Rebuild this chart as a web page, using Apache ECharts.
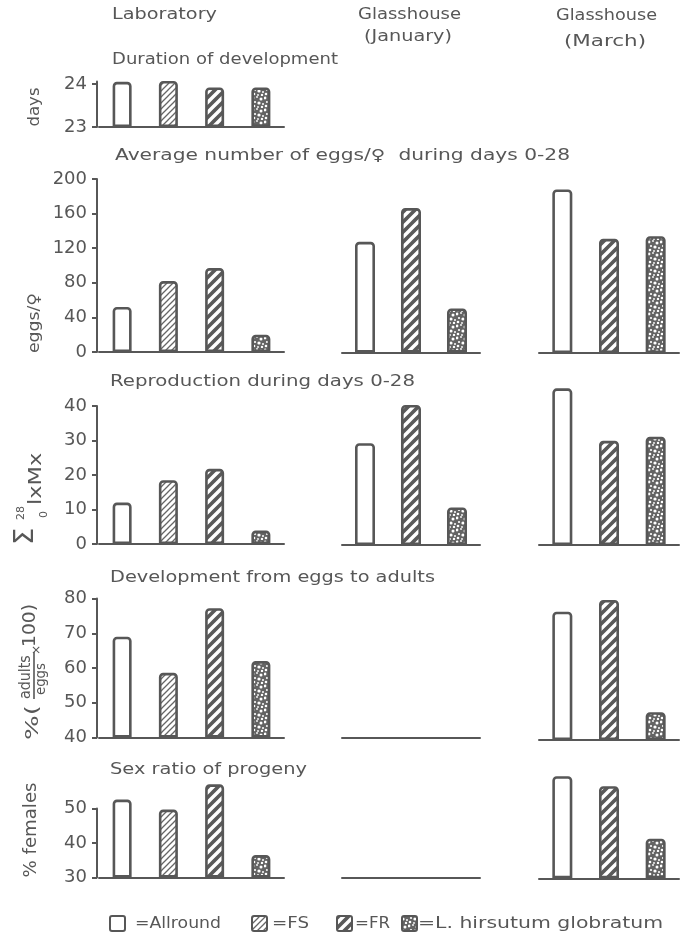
<!DOCTYPE html>
<html>
<head>
<meta charset="utf-8">
<script src="https://cdn.jsdelivr.net/npm/echarts@6/dist/echarts.min.js"></script>
<style>
  html, body { margin: 0; padding: 0; background: #ffffff; }
  #chart { width: 687px; height: 935px; }
</style>
</head>
<body>
<div id="chart"></div>
<script>
// Genotypes shown in each column
const labCats = ['Allround', 'FS', 'FR', 'L. hirsutum globratum'];
const ghCats = ['Allround', 'FR', 'L. hirsutum globratum'];

// Duration of development (days), laboratory only
const durationLab = [24.05, 24.07, 23.92, 23.92];
// Average number of eggs per female during days 0-28
const eggsLab = [52, 82, 97, 20];
const eggsJan = [128, 167, 51];
const eggsMar = [189, 132, 135];
// Reproduction during days 0-28 (sum of lx*Mx)
const reproLab = [12, 18.5, 21.8, 3.9];
const reproJan = [29.5, 40.6, 10.9];
const reproMar = [45.4, 30.2, 31.4];
// Development from eggs to adults (%)
const develLab = [69, 58.6, 77.2, 62];
const develJan = [];
const develMar = [76.9, 80.3, 48];
// Sex ratio of progeny (% females)
const sexLab = [52.6, 49.7, 57, 36.5];
const sexJan = [];
const sexMar = [59.6, 56.7, 41.5];

// Tick labels of the left-hand axes
const durationTicks = [23, 24];
const eggTicks = [0, 40, 80, 120, 160, 200];
const reproTicks = [0, 10, 20, 30, 40];
const develTicks = [40, 50, 60, 70, 80];
const sexTicks = [30, 40, 50];

const INK = '#575757';
const FONT = '"DejaVu Sans", sans-serif';

// ---- fill patterns for the four genotypes ----
function tile(size, draw) {
  const c = document.createElement('canvas');
  c.width = c.height = size;
  draw(c.getContext('2d'), size);
  return { image: c, repeat: 'repeat' };
}
function diagonals(ctx, s) {
  ctx.beginPath();
  ctx.moveTo(-2, s + 2); ctx.lineTo(s + 2, -2);
  ctx.moveTo(-2, 2); ctx.lineTo(2, -2);
  ctx.moveTo(s - 2, s + 2); ctx.lineTo(s + 2, s - 2);
  ctx.stroke();
}
const fills = {
  'Allround': '#ffffff',
  'FS': tile(6, (ctx, s) => {
    ctx.fillStyle = '#ffffff'; ctx.fillRect(0, 0, s, s);
    ctx.strokeStyle = '#666666'; ctx.lineWidth = 1.3; diagonals(ctx, s);
  }),
  'FR': tile(10, (ctx, s) => {
    ctx.fillStyle = '#5a5a5a'; ctx.fillRect(0, 0, s, s);
    ctx.strokeStyle = '#ffffff'; ctx.lineWidth = 3.4; diagonals(ctx, s);
  }),
  'L. hirsutum globratum': tile(12, (ctx, s) => {
    ctx.fillStyle = '#646464'; ctx.fillRect(0, 0, s, s);
    ctx.fillStyle = '#ffffff';
    const specks = [[1,2,1.4],[5,1,0.9],[9,3,1.5],[3,6,1.1],[7,7,1.6],[11,8,1],[2,10,1.3],[6,11,0.9],[10,11,1.2]];
    specks.forEach(([x, y, r]) => { ctx.beginPath(); ctx.arc(x, y, r, 0, Math.PI * 2); ctx.fill(); });
  })
};

// ---- panel layout ----
const COLS = {
  lab: { left: 99, width: 185, cats: labCats, barWidth: 19, axis: true },
  jan: { left: 342, width: 138, cats: ghCats, barWidth: 20, axis: false },
  mar: { left: 539, width: 140, cats: ghCats, barWidth: 20, axis: false }
};
const ROWS = [
  { ticks: durationTicks, max: 24.06, ppu: 43, base: { lab: 127 }, data: { lab: durationLab } },
  { ticks: eggTicks, ppu: 0.865, base: { lab: 352, jan: 352.5, mar: 353 }, data: { lab: eggsLab, jan: eggsJan, mar: eggsMar } },
  { ticks: reproTicks, ppu: 3.45, base: { lab: 544, jan: 545, mar: 545 }, data: { lab: reproLab, jan: reproJan, mar: reproMar } },
  { ticks: develTicks, ppu: 3.475, base: { lab: 737.5, jan: 738, mar: 740 }, data: { lab: develLab, jan: develJan, mar: develMar } },
  { ticks: sexTicks, ppu: 3.45, base: { lab: 877.5, jan: 878, mar: 878.3 }, data: { lab: sexLab, jan: sexJan, mar: sexMar } }
];

const grid = [], xAxis = [], yAxis = [], series = [];
ROWS.forEach(row => {
  const min = row.ticks[0];
  const max = row.max !== undefined ? row.max : row.ticks[row.ticks.length - 1];
  const interval = row.ticks[1] - row.ticks[0];
  Object.keys(row.data).forEach(colKey => {
    const col = COLS[colKey];
    const values = row.data[colKey];
    const h = (max - min) * row.ppu;
    const idx = grid.length;
    grid.push({ left: col.left, width: col.width, top: row.base[colKey] - h, height: h });
    xAxis.push({
      gridIndex: idx, type: 'category', data: col.cats,
      axisLine: { onZero: false, lineStyle: { color: INK, width: 2 } },
      axisTick: { show: false }, axisLabel: { show: false }
    });
    yAxis.push({
      gridIndex: idx, type: 'value', min: min, max: max, interval: interval, startValue: min,
      show: col.axis, offset: 2,
      axisLine: { show: true, lineStyle: { color: INK, width: 2 } },
      axisTick: { show: true, inside: false, length: 5, lineStyle: { color: INK, width: 2 } },
      axisLabel: { color: INK, fontSize: 18, fontFamily: FONT, margin: 10 },
      splitLine: { show: false }
    });
    if (values.length) {
      series.push({
        type: 'bar', xAxisIndex: idx, yAxisIndex: idx, barWidth: col.barWidth, clip: false, silent: true,
        data: values.map((v, k) => ({
          value: v,
          itemStyle: { color: fills[col.cats[k]], borderColor: INK, borderWidth: 2.6, borderRadius: [3, 3, 0, 0] }
        }))
      });
    }
  });
});

// ---- text helpers ----
const mctx = document.createElement('canvas').getContext('2d');
function textWidth(str, size) { mctx.font = size + 'px ' + FONT; return mctx.measureText(str).width; }
function txt(str, left, cy, width, size) {
  return {
    type: 'text', x: left, y: cy, scaleX: width ? width / textWidth(str, size) : 1,
    style: { text: str, fontSize: size, fontFamily: FONT, fill: INK, align: 'left', verticalAlign: 'middle' }
  };
}
// vertical text (reads bottom to top), centred on (cx, cy)
function vtxt(str, cx, cy, length, size) {
  return {
    type: 'group', x: cx, y: cy, rotation: Math.PI / 2,
    children: [{
      type: 'text', x: -length / 2, y: 0, scaleX: length / textWidth(str, size),
      style: { text: str, fontSize: size, fontFamily: FONT, fill: INK, align: 'left', verticalAlign: 'middle' }
    }]
  };
}
function part(str, x, y, size, scale) {
  return { type: 'text', x: x, y: y, scaleX: scale || 1,
    style: { text: str, fontSize: size, fontFamily: FONT, fill: INK, align: 'left', verticalAlign: 'middle' } };
}

const graphic = [
  // column headings
  txt('Laboratory', 112, 15, 105, 15),
  txt('Glasshouse', 358, 15, 103, 15),
  txt('(January)', 364, 37, 88, 15),
  txt('Glasshouse', 556, 16, 101, 15),
  txt('(March)', 564, 42, 82, 15),
  // panel titles
  txt('Duration of development', 112, 60, 226, 15),
  txt('Average number of eggs/\u2640  during days 0-28', 115, 156, 455, 15),
  txt('Reproduction during days 0-28', 110, 382, 305, 15),
  txt('Development from eggs to adults', 110, 578, 325, 15),
  txt('Sex ratio of progeny', 110, 770, 197, 15),
  // axis names
  vtxt('days', 35, 107, 39, 16),
  vtxt('eggs/\u2640', 35, 323, 60, 16),
  {
    type: 'group', x: 36, y: 545, rotation: Math.PI / 2,
    children: [
      part('\u03A3', 0, -10, 26, 1.05),
      part('28', 25, -15, 11),
      part('0', 27, 8, 11),
      part('lxMx', 40, 0, 18, 1.25)
    ]
  },
  {
    type: 'group', x: 33, y: 740, rotation: Math.PI / 2,
    children: [
      part('%(', 0, 0, 18, 1.45),
      part('adults', 41, -7, 15, 0.95),
      { type: 'line', shape: { x1: 41, y1: 1, x2: 88, y2: 1 }, style: { stroke: INK, lineWidth: 1.6 } },
      part('eggs', 45, 8, 14, 0.95),
      part('\u00D7', 85, 4, 12),
      part('100)', 93, -2, 17, 1.1)
    ]
  },
  vtxt('% females', 32, 830, 95, 17)
];

// legend row
const legendItems = [
  { cat: 'Allround', box: 110, label: '=Allround', tx: 135, tw: 86 },
  { cat: 'FS', box: 252, label: '=FS', tx: 272, tw: 37 },
  { cat: 'FR', box: 337, label: '=FR', tx: 355, tw: 35 },
  { cat: 'L. hirsutum globratum', box: 402, label: '=L. hirsutum globratum', tx: 418, tw: 245 }
];
legendItems.forEach(it => {
  graphic.push({ type: 'rect', shape: { x: it.box, y: 916, width: 15, height: 15, r: 2 },
    style: { fill: fills[it.cat], stroke: INK, lineWidth: 2 } });
  graphic.push(txt(it.label, it.tx, 924, it.tw, 16));
});

const chart = echarts.init(document.getElementById('chart'), null, { renderer: 'canvas' });
chart.setOption({
  animation: false,
  backgroundColor: '#ffffff',
  grid: grid,
  xAxis: xAxis,
  yAxis: yAxis,
  series: series,
  graphic: graphic
});
</script>
</body>
</html>
